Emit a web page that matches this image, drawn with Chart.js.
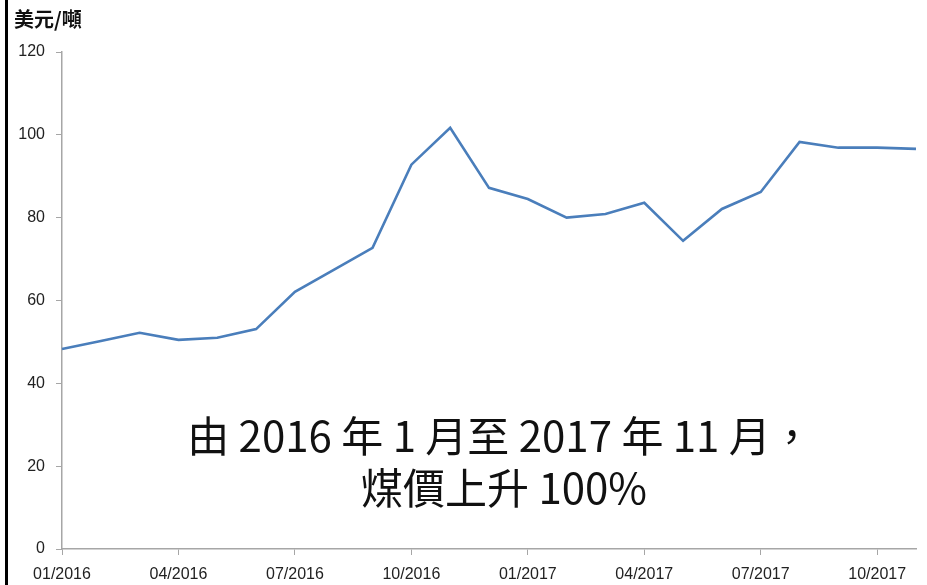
<!DOCTYPE html>
<html>
<head>
    <meta charset="UTF-8">
    <title>煤價</title>
    <script src="https://cdn.jsdelivr.net/npm/chart.js"></script>
    <style>
        html, body { margin: 0; padding: 0; background: #fff; }
        #wrap { width: 927px; height: 585px; }
    </style>
</head>
<body>
<div id="wrap"><canvas id="myChart" width="927" height="585"></canvas></div>
<script>
// monthly coal price, 01/2016 - 11/2017
const months = ['01/2016', '02/2016', '03/2016', '04/2016', '05/2016', '06/2016',
    '07/2016', '08/2016', '09/2016', '10/2016', '11/2016', '12/2016',
    '01/2017', '02/2017', '03/2017', '04/2017', '05/2017', '06/2017',
    '07/2017', '08/2017', '09/2017', '10/2017', '11/2017'];
const prices = [48.3, 50.2, 52.2, 50.5, 51.0, 53.1,
    62.1, 67.4, 72.7, 92.8, 101.7, 87.2,
    84.5, 80.0, 80.9, 83.6, 74.4, 82.1,
    86.2, 98.3, 96.9, 96.9, 96.6];
const yTicks = [0, 20, 40, 60, 80, 100, 120];
const unitLabel = '美元/噸';
const noteLines = ['由 2016 年 1 月至 2017 年 11 月，', '煤價上升 100%'];

const axisGrey = '#a6a6a6';
const tickFont = { family: '"Liberation Sans", Arial, sans-serif', size: 16 };

const extras = {
    id: 'extras',
    afterDraw(chart) {
        const c = chart.ctx;
        c.save();
        // black bar on the left
        c.fillStyle = '#000';
        c.fillRect(5, 0, 3, chart.height);
        // unit label
        c.fillStyle = '#111';
        c.font = 'bold 20px "Noto Sans CJK TC", sans-serif';
        c.textBaseline = 'middle';
        c.textAlign = 'left';
        c.fillText(unitLabel, 14, 19);
        // annotation
        c.font = '42px "Noto Sans CJK TC", sans-serif';
        c.textAlign = 'center';
        c.fillText(noteLines[0], 500, 436);
        c.fillText(noteLines[1], 504, 488);
        c.restore();
    }
};

const ctx = document.getElementById('myChart').getContext('2d');
const chart = new Chart(ctx, {
    type: 'line',
    data: {
        labels: months,
        datasets: [{
            label: '煤價',
            data: prices,
            borderColor: '#4a7ebb',
            borderWidth: 2.6,
            pointRadius: 0,
            tension: 0,
            fill: false
        }]
    },
    options: {
        responsive: false,
        animation: false,
        layout: { padding: { top: 52, right: 11, left: 0, bottom: 0 } },
        plugins: {
            legend: { display: false },
            tooltip: { enabled: false }
        },
        scales: {
            x: {
                offset: false,
                afterFit(s) { s.height = 36; },
                grid: { drawOnChartArea: false, color: axisGrey, tickLength: 6 },
                border: { color: axisGrey, width: 1.5 },
                ticks: {
                    autoSkip: false,
                    maxRotation: 0,
                    color: '#222',
                    font: tickFont,
                    padding: 10,
                    callback(v, i) { return i % 3 === 0 ? months[i] : null; }
                }
            },
            y: {
                min: 0,
                max: 120,
                afterFit(s) { s.width = 62; },
                afterBuildTicks(s) { s.ticks = yTicks.map(v => ({ value: v })); },
                grid: { drawOnChartArea: false, color: axisGrey, tickLength: 6 },
                border: { color: axisGrey, width: 1.5 },
                ticks: { color: '#222', font: tickFont, padding: 11 }
            }
        }
    },
    plugins: [extras]
});
</script>
</body>
</html>
